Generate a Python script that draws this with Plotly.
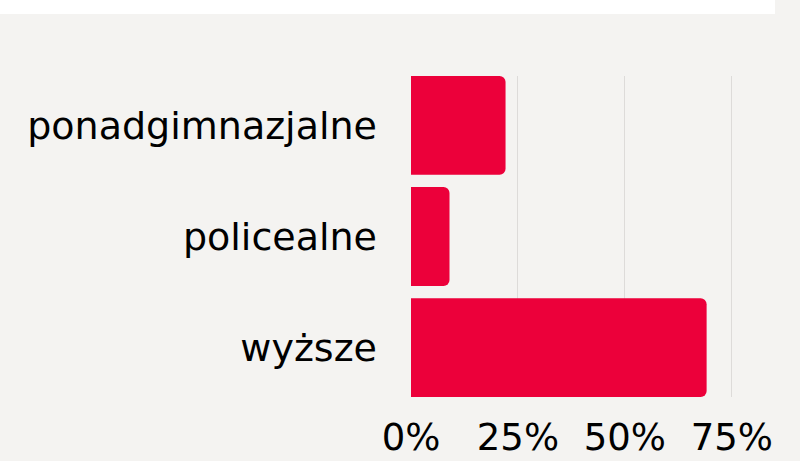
import plotly.graph_objects as go

categories = ["ponadgimnazjalne", "policealne", "wyższe"]
values = [22.1, 9.0, 69.1]
tick_vals = [0, 25, 50, 75]
tick_text = ["0%", "25%", "50%", "75%"]

BG = "#f4f3f1"
RED = "#ec003a"

PLOT_W = 323.0
fig = go.Figure(go.Bar(
    y=categories, x=values, orientation="h",
    marker=dict(color=RED, line=dict(width=0), cornerradius=6),
    hoverinfo="skip",
))

fig.update_layout(
    width=800, height=461,
    margin=dict(l=411, r=800 - 411 - PLOT_W, t=76, b=64, pad=0),
    paper_bgcolor=BG, plot_bgcolor=BG,
    bargap=0.111,
    showlegend=False,
    font=dict(family="DejaVu Sans", color="#000000", size=36),
    shapes=[dict(type="rect", xref="paper", yref="paper",
                 x0=-411 / PLOT_W, x1=(775 - 411) / PLOT_W,
                 y0=1 + 62 / 321, y1=1 + 90 / 321,
                 fillcolor="#ffffff", line=dict(width=0), layer="below")],
)
fig.update_xaxes(range=[0, 75.5], tickvals=tick_vals, ticktext=tick_text,
                 showgrid=True, gridcolor="#dddbd9", gridwidth=1,
                 zeroline=False, showline=False, ticks="", automargin=False,
                 tickfont=dict(size=37), ticklabelstandoff=15)
fig.update_yaxes(categoryorder="array", categoryarray=categories[::-1],
                 range=[-0.4445, 2.4445], showgrid=False, zeroline=False,
                 ticks="", automargin=False,
                 ticklabelstandoff=33, tickfont=dict(size=38))

fig.write_html("out.html", config={"displayModeBar": False},
               post_script="document.body.style.margin='0';document.body.style.overflow='hidden';")
